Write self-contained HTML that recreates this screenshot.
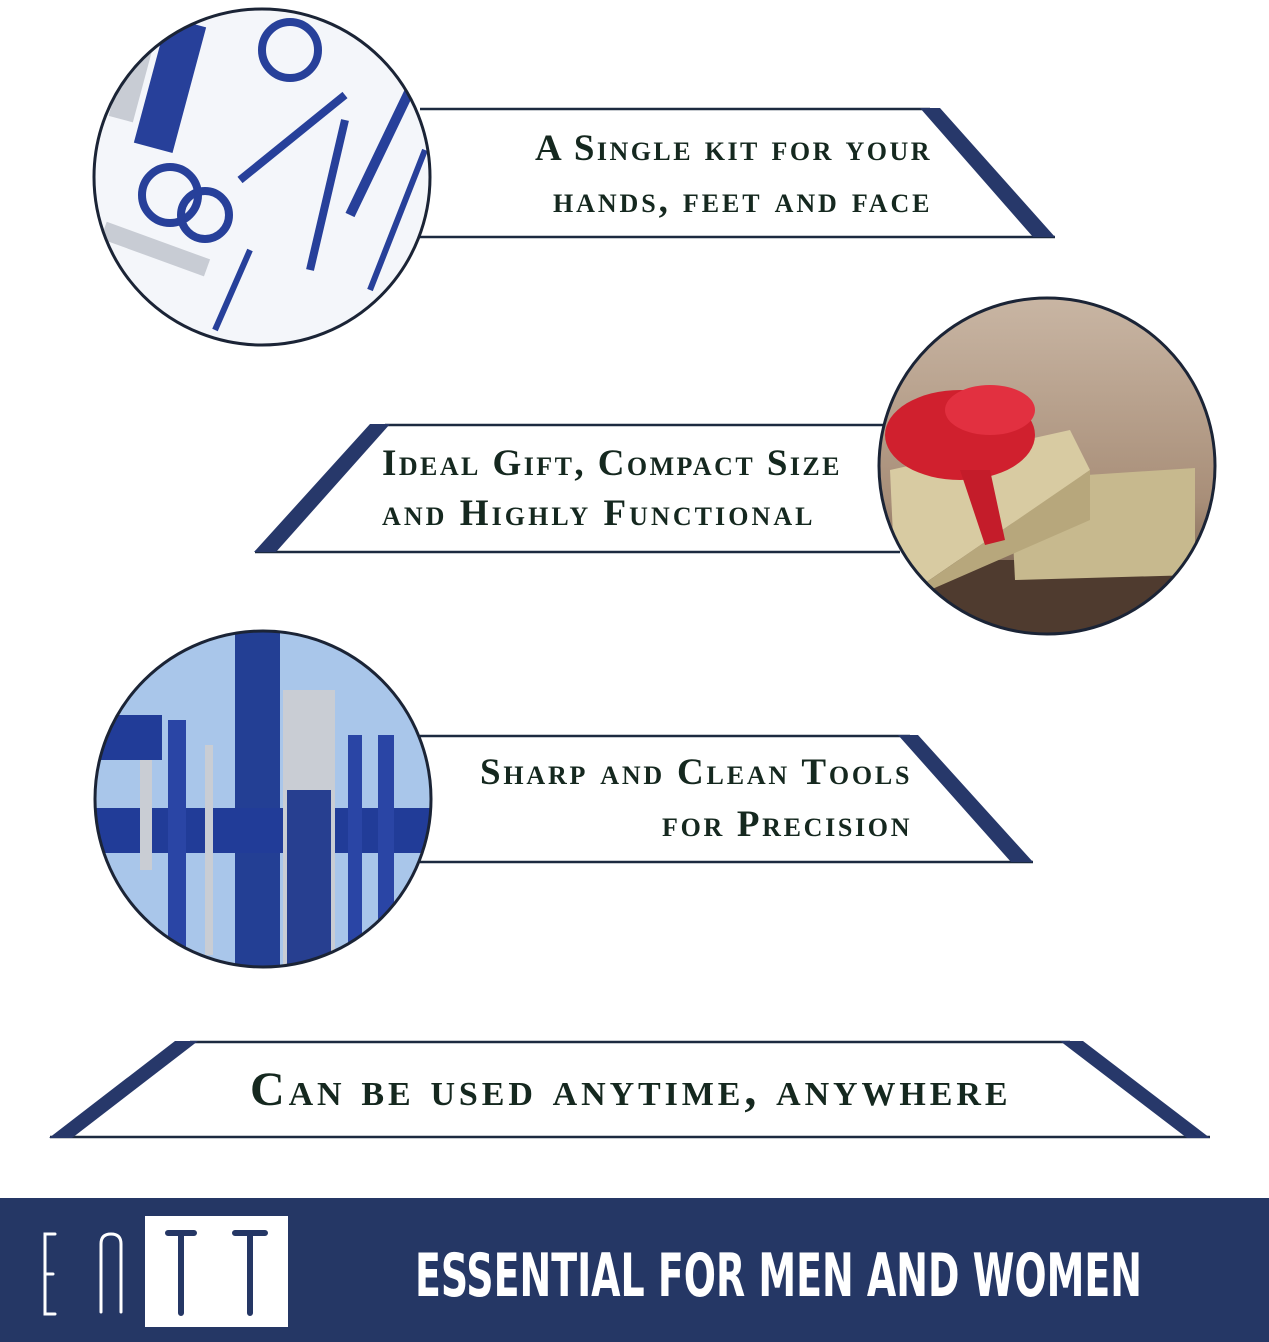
<!DOCTYPE html>
<html><head><meta charset="utf-8"><style>
html,body{margin:0;padding:0;background:#fff;width:1269px;height:1342px;overflow:hidden}
svg{display:block}
.t{font-family:"Liberation Serif",serif;font-weight:bold;font-variant:small-caps;fill:#15281f;letter-spacing:2.5px}
</style></head><body>
<svg width="1269" height="1342" viewBox="0 0 1269 1342" xmlns="http://www.w3.org/2000/svg">
<defs>
<clipPath id="c1"><circle cx="262" cy="177" r="168"/></clipPath>
<clipPath id="c2"><circle cx="1047" cy="466" r="168"/></clipPath>
<clipPath id="c3"><circle cx="263" cy="799" r="168"/></clipPath>
<linearGradient id="g2" x1="0" y1="0" x2="0" y2="1"><stop offset="0" stop-color="#c9b6a4"/><stop offset="0.6" stop-color="#a88e78"/><stop offset="1" stop-color="#5a4436"/></linearGradient>
</defs>
<!-- banner 1 -->
<line x1="420" y1="109" x2="930" y2="109" stroke="#1c2a40" stroke-width="2.5"/>
<line x1="420" y1="237" x2="1055" y2="237" stroke="#1c2a40" stroke-width="2.5"/>
<polygon points="920,108 940,108 1055,237 1033,237" fill="#27386a"/>
<text class="t" x="535" y="160" font-size="37" textLength="397" lengthAdjust="spacing">A Single kit for your</text>
<text class="t" x="553" y="212" font-size="37" textLength="379" lengthAdjust="spacing">hands, feet and face</text>
<!-- banner 2 -->
<line x1="385" y1="425" x2="885" y2="425" stroke="#1c2a40" stroke-width="2.5"/>
<line x1="255" y1="552" x2="900" y2="552" stroke="#1c2a40" stroke-width="2.5"/>
<polygon points="370,424 390,424 276,552 254,552" fill="#27386a"/>
<text class="t" x="382" y="475" font-size="37" textLength="460" lengthAdjust="spacing">Ideal Gift, Compact Size</text>
<text class="t" x="382" y="525" font-size="37" textLength="433" lengthAdjust="spacing">and Highly Functional</text>
<!-- banner 3 -->
<line x1="420" y1="736" x2="910" y2="736" stroke="#1c2a40" stroke-width="2.5"/>
<line x1="420" y1="862" x2="1033" y2="862" stroke="#1c2a40" stroke-width="2.5"/>
<polygon points="898,735 918,735 1033,862 1011,862" fill="#27386a"/>
<text class="t" x="480" y="784" font-size="37" textLength="432" lengthAdjust="spacing">Sharp and Clean Tools</text>
<text class="t" x="662" y="836" font-size="37" textLength="250" lengthAdjust="spacing">for Precision</text>
<!-- banner 4 -->
<line x1="190" y1="1042" x2="1070" y2="1042" stroke="#1c2a40" stroke-width="2.5"/>
<line x1="50" y1="1137" x2="1210" y2="1137" stroke="#1c2a40" stroke-width="2.5"/>
<polygon points="175,1041 198,1041 72,1138 49,1138" fill="#27386a"/>
<polygon points="1060,1041 1083,1041 1210,1138 1187,1138" fill="#27386a"/>
<text class="t" x="250" y="1105" font-size="48" textLength="760" lengthAdjust="spacing">Can be used anytime, anywhere</text>
<!-- circle 1 -->
<g clip-path="url(#c1)">
<rect x="90" y="5" width="345" height="345" fill="#f4f6fa"/>
<rect x="150" y="20" width="40" height="130" fill="#27409a" transform="rotate(15 170 85)"/>
<rect x="120" y="30" width="25" height="90" fill="#c8ccd4" transform="rotate(15 130 75)"/>
<circle cx="170" cy="195" r="28" fill="none" stroke="#27409a" stroke-width="8"/>
<circle cx="205" cy="215" r="24" fill="none" stroke="#27409a" stroke-width="8"/>
<circle cx="290" cy="50" r="28" fill="none" stroke="#27409a" stroke-width="8"/>
<line x1="240" y1="180" x2="345" y2="95" stroke="#27409a" stroke-width="8"/>
<line x1="310" y1="270" x2="345" y2="120" stroke="#27409a" stroke-width="8"/>
<line x1="350" y1="215" x2="410" y2="90" stroke="#27409a" stroke-width="10"/>
<line x1="370" y1="290" x2="425" y2="150" stroke="#27409a" stroke-width="6"/>
<line x1="215" y1="330" x2="250" y2="250" stroke="#27409a" stroke-width="6"/>
<rect x="100" y="240" width="110" height="18" fill="#c8ccd4" transform="rotate(20 155 250)"/>
</g>
<circle cx="262" cy="177" r="168" fill="none" stroke="#1b2436" stroke-width="3"/>
<!-- circle 2 -->
<g clip-path="url(#c2)">
<rect x="875" y="295" width="345" height="345" fill="url(#g2)"/>
<rect x="875" y="560" width="345" height="80" fill="#4f3b2f"/>
<polygon points="1010,480 1195,468 1195,575 1015,580" fill="#c7b98e"/>
<polygon points="890,470 1070,430 1090,470 915,590 895,580" fill="#d8cba2"/>
<polygon points="915,590 1090,470 1090,520 930,590" fill="#b7a77c"/>
<ellipse cx="960" cy="435" rx="75" ry="45" fill="#d0202e"/>
<ellipse cx="990" cy="410" rx="45" ry="25" fill="#e23040"/>
<polygon points="960,470 990,470 1005,540 985,545" fill="#c41c2a"/>
</g>
<circle cx="1047" cy="466" r="168" fill="none" stroke="#1b2436" stroke-width="3"/>
<!-- circle 3 -->
<g clip-path="url(#c3)">
<rect x="92" y="628" width="345" height="345" fill="#a9c6ea"/>
<rect x="235" y="628" width="45" height="345" fill="#233f94"/>
<rect x="92" y="808" width="345" height="45" fill="#213c98"/>
<rect x="92" y="715" width="70" height="45" fill="#213c98"/>
<rect x="283" y="690" width="52" height="280" fill="#c9cdd4"/>
<rect x="287" y="790" width="44" height="180" fill="#273f90"/>
<rect x="168" y="720" width="18" height="230" fill="#2a45a5"/>
<rect x="205" y="745" width="8" height="210" fill="#c9cdd4"/>
<rect x="348" y="735" width="14" height="235" fill="#2a45a5"/>
<rect x="378" y="735" width="16" height="235" fill="#2a45a5"/>
<rect x="140" y="760" width="12" height="110" fill="#c9cdd4"/>
</g>
<circle cx="263" cy="799" r="168" fill="none" stroke="#1b2436" stroke-width="3"/>
<!-- footer -->
<rect x="0" y="1198" width="1269" height="144" fill="#253765"/>
<rect x="145" y="1216" width="143" height="111" fill="#fff"/>
<path d="M55 1234 h-10 v80 h10 M45 1274 h8" fill="none" stroke="#fff" stroke-width="3" stroke-linecap="round"/>
<path d="M101 1312 v-68 q0 -10 10 -10 q10 0 10 10 v68" fill="none" stroke="#fff" stroke-width="3" stroke-linecap="round"/>
<path d="M168 1233 h26 M181 1233 v80 M235 1233 h30 M250 1233 v80" fill="none" stroke="#253765" stroke-width="6" stroke-linecap="round"/>
<text x="415" y="1296" font-family="'DejaVu Sans Condensed','Liberation Sans Narrow',sans-serif" font-weight="bold" font-size="60" fill="#fff" textLength="727" lengthAdjust="spacingAndGlyphs">ESSENTIAL FOR MEN AND WOMEN</text>
</svg>
</body></html>
